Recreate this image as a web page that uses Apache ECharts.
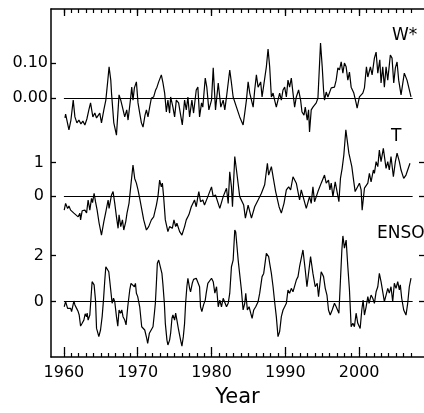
<!DOCTYPE html>
<html>
<head>
<meta charset="utf-8">
<script src="https://cdn.jsdelivr.net/npm/echarts@6/dist/echarts.min.js"></script>
<style>
  html, body { margin: 0; padding: 0; background: #fff; }
  #chart { width: 424px; height: 413px; }
</style>
</head>
<body>
<div id="chart"></div>
<script>
// W* index
const wYears = [1960.14,1960.23,1960.68,1960.95,1961.26,1961.49,1961.76,1962.03,1962.30,1962.57,1962.84,1963.11,1963.38,1963.61,1963.92,1964.19,1964.42,1964.86,1965.09,1965.41,1965.68,1965.95,1966.12,1966.35,1966.45,1966.76,1967.12,1967.47,1967.70,1967.93,1968.24,1968.51,1968.69,1969.01,1969.19,1969.36,1969.55,1969.82,1970.04,1970.27,1970.50,1970.72,1970.99,1971.18,1971.39,1971.62,1971.85,1972.16,1972.43,1972.61,1972.84,1973.20,1973.42,1973.65,1973.88,1974.09,1974.32,1974.46,1974.77,1975.00,1975.23,1975.54,1975.77,1976.04,1976.35,1976.58,1976.80,1977.03,1977.34,1977.57,1977.93,1978.15,1978.38,1978.65,1978.82,1979.15,1979.36,1979.64,1980.00,
  1980.23,1980.54,1980.91,1981.26,1981.58,1981.80,1982.03,1982.47,1982.70,1982.93,1983.38,1983.82,1984.28,1984.50,1984.73,1984.96,1985.18,1985.64,1985.85,1986.08,1986.31,1986.66,1986.85,1987.12,1987.43,1987.66,1987.88,1988.11,1988.34,1988.55,1988.78,1989.23,1989.46,1989.69,1989.91,1990.14,1990.36,1990.58,1990.81,1991.04,1991.26,1991.49,1991.80,1992.07,1992.26,1992.53,1992.70,1992.97,1993.15,1993.28,1993.51,1993.74,1994.19,1994.42,1994.77,1995.00,1995.18,1995.31,1995.54,1995.77,1996.22,1996.66,1996.89,1997.12,1997.34,1997.57,1997.80,1998.01,1998.24,1998.47,1998.69,1998.92,1999.28,1999.59,1999.73,2000.04,2000.50,2000.72,2000.99,2001.18,2001.53,2001.76,2002.07,2002.30,2002.53,2002.80,2002.97,2003.20,2003.42,2003.65,2003.88,2004.23,2004.46,2004.69,2004.91,2005.14,2005.36,2005.68,2006.12,2006.49,2006.66,2007.03];
const wValues = [-0.057,-0.046,-0.091,-0.063,-0.006,-0.054,-0.071,-0.063,-0.074,-0.066,-0.077,-0.060,-0.034,-0.014,-0.054,-0.043,-0.057,-0.043,-0.071,-0.034,-0.006,0.051,0.089,0.051,0.014,-0.071,-0.106,0.009,-0.006,-0.026,-0.054,-0.034,-0.063,-0.006,0.031,-0.006,0.029,0.046,-0.014,-0.043,-0.071,-0.083,-0.049,-0.034,-0.054,-0.026,0.000,0.003,0.023,0.031,0.046,0.066,0.043,0.014,-0.040,-0.006,-0.043,0.003,-0.026,-0.054,-0.006,-0.014,-0.043,-0.077,-0.006,-0.034,0.003,-0.054,-0.006,-0.043,0.023,0.031,-0.054,-0.014,-0.026,0.057,0.031,-0.034,-0.006,
  0.086,-0.034,0.043,-0.026,-0.006,-0.034,0.003,0.080,0.043,0.003,-0.026,-0.054,-0.077,-0.043,-0.006,0.046,0.014,-0.026,0.023,0.066,0.031,0.046,0.003,0.043,0.089,0.140,0.089,0.003,0.014,-0.006,-0.026,0.014,-0.006,0.023,0.031,0.003,0.051,0.031,0.057,0.014,-0.026,0.003,0.023,-0.006,-0.040,-0.049,-0.026,-0.063,-0.034,-0.097,-0.034,-0.026,-0.014,0.000,0.157,0.089,0.023,-0.006,0.017,0.003,0.029,0.031,0.051,0.086,0.080,0.103,0.071,0.100,0.089,0.051,0.074,0.031,0.014,-0.014,-0.029,0.003,0.014,0.029,0.089,0.060,0.089,0.066,0.114,0.131,0.071,0.109,0.043,0.089,0.031,0.089,0.051,0.123,0.114,0.043,0.086,0.103,0.051,0.009,0.071,0.051,0.046,0.003];

// T (middle panel)
const tYears = [1960.04,1960.23,1960.50,1960.68,1960.91,1961.12,1961.35,1961.62,1961.93,1962.16,1962.26,1962.47,1962.84,1963.07,1963.28,1963.51,1963.74,1963.88,1964.09,1964.28,1964.50,1964.77,1965.09,1965.41,1965.68,1965.99,1966.12,1966.45,1966.66,1966.89,1967.12,1967.34,1967.47,1967.70,1967.93,1968.11,1968.38,1968.55,1968.82,1969.05,1969.36,1969.59,1969.82,1970.04,1970.27,1970.50,1970.81,1971.18,1971.49,1971.85,1972.16,1972.53,1972.74,1972.97,1973.20,1973.34,1973.51,1973.74,1974.09,1974.32,1974.69,1974.91,1975.14,1975.31,1975.68,1975.99,1976.35,1976.58,1976.93,1977.26,1977.47,1977.70,1977.93,1978.15,1978.28,1978.51,1978.82,1979.05,1979.50,1980.00,
  1980.23,1980.54,1981.12,1981.58,1982.03,1982.26,1982.47,1982.70,1982.84,1983.15,1983.38,1983.82,1984.36,1984.59,1984.96,1985.41,1985.85,1986.31,1986.76,1987.20,1987.57,1987.74,1988.11,1988.42,1988.69,1989.15,1989.46,1989.82,1990.14,1990.45,1990.72,1991.04,1991.49,1991.93,1992.16,1992.84,1993.28,1993.51,1993.74,1993.96,1994.42,1994.64,1994.86,1995.31,1995.54,1995.85,1996.04,1996.22,1996.45,1996.76,1997.26,1997.47,1997.70,1997.93,1998.20,1998.47,1998.61,1998.82,1999.01,1999.28,1999.46,1999.73,2000.04,2000.27,2000.41,2000.72,2000.95,2001.18,2001.39,2001.62,2001.93,2002.07,2002.30,2002.53,2002.74,2002.97,2003.28,2003.65,2003.88,2004.09,2004.32,2004.64,2004.91,2005.14,2005.45,2005.68,2006.04,2006.35,2006.58,2006.89];
const tValues = [-0.41,-0.21,-0.36,-0.29,-0.41,-0.36,-0.50,-0.46,-0.61,-0.50,-0.70,-0.43,-0.41,-0.49,-0.11,-0.41,-0.06,-0.19,0.09,-0.16,-0.41,-0.80,-1.15,-0.75,-0.46,-0.11,-0.36,0.04,0.14,-0.21,-0.61,-0.95,-0.55,-0.90,-0.70,-1.00,-0.75,-0.50,-0.21,0.28,0.93,0.53,0.39,0.19,-0.06,-0.11,-0.70,-1.00,-0.90,-0.70,-0.61,-0.26,-0.01,0.48,0.28,0.39,-0.01,-0.70,-1.05,-0.90,-0.95,-0.70,-0.90,-0.80,-1.05,-1.15,-0.90,-0.70,-0.55,-0.31,-0.36,-0.11,-0.31,-0.01,0.14,-0.16,-0.11,-0.26,-0.01,0.28,
  -0.01,0.04,-0.36,-0.01,0.24,-0.21,0.73,0.28,-0.31,1.18,0.78,-0.01,-0.26,-0.65,-0.26,-0.65,-0.31,-0.11,0.09,0.34,0.98,0.63,0.88,0.48,0.14,-0.31,-0.50,-0.21,0.19,0.28,0.19,0.58,0.39,-0.11,0.19,-0.36,-0.01,-0.21,0.28,-0.16,0.14,0.09,0.39,0.63,0.39,0.48,0.19,0.39,-0.01,0.43,-0.16,0.53,0.83,1.23,1.97,1.52,1.28,1.32,0.88,0.43,0.14,0.19,0.39,0.19,-0.41,0.24,0.28,0.39,0.68,0.43,0.78,0.68,1.03,0.88,1.37,1.03,1.42,0.83,1.03,0.78,1.18,0.58,1.03,1.28,1.03,0.78,0.53,0.63,0.58,0.98];

// ENSO (bottom panel)
const eYears = [1960.04,1960.23,1960.50,1960.68,1960.91,1961.04,1961.18,1961.35,1961.49,1961.72,1961.93,1962.07,1962.26,1962.47,1962.70,1962.88,1963.07,1963.15,1963.28,1963.42,1963.51,1963.65,1963.82,1963.96,1964.09,1964.28,1964.42,1964.55,1964.73,1964.96,1965.18,1965.36,1965.54,1965.68,1965.85,1966.08,1966.22,1966.39,1966.53,1966.72,1966.89,1967.12,1967.30,1967.47,1967.66,1967.84,1968.01,1968.24,1968.42,1968.65,1968.92,1969.09,1969.23,1969.36,1969.55,1969.69,1969.82,1970.00,1970.27,1970.54,1970.72,1970.95,1971.22,1971.35,1971.58,1971.85,1972.07,1972.26,1972.39,1972.53,1972.66,1972.84,1973.11,1973.28,1973.42,1973.61,1973.74,1973.96,1974.09,1974.32,1974.46,1974.64,1974.77,1975.00,1975.14,1975.31,1975.54,1975.81,1975.99,1976.18,1976.35,1976.49,1976.66,1976.80,1977.03,1977.16,1977.39,1977.57,1977.93,1978.15,1978.38,1978.51,1978.69,1978.92,1979.15,1979.28,1979.50,1979.73,
  1980.00,1980.23,1980.45,1980.68,1980.91,1981.12,1981.35,1981.58,1982.03,1982.26,1982.47,1982.70,1982.93,1983.15,1983.28,1983.61,1984.05,1984.28,1984.50,1984.64,1984.86,1985.09,1985.31,1985.50,1985.72,1985.99,1986.31,1986.53,1986.85,1987.07,1987.43,1987.74,1987.88,1988.11,1988.34,1988.55,1988.78,1989.01,1989.23,1989.46,1989.69,1989.91,1990.14,1990.36,1990.58,1990.81,1991.04,1991.49,1991.72,1991.93,1992.39,1992.70,1992.93,1993.07,1993.42,1993.74,1994.05,1994.32,1994.50,1994.86,1995.18,1995.41,1995.64,1995.85,1996.08,1996.35,1996.66,1996.89,1997.26,1997.47,1997.66,1997.80,1998.01,1998.24,1998.47,1998.69,1998.92,1999.15,1999.36,1999.59,1999.82,2000.14,2000.36,2000.54,2000.72,2000.95,2001.18,2001.35,2001.62,2001.85,2002.07,2002.30,2002.53,2002.74,2002.97,2003.20,2003.42,2003.65,2003.88,2004.09,2004.32,2004.55,2004.77,2005.00,2005.23,2005.45,2005.58,2005.77,2006.04,2006.35,2006.58,2006.80,2007.03];
const eValues = [-0.22,0.00,-0.29,-0.36,-0.29,-0.43,-0.22,0.03,-0.14,-0.29,-0.43,-0.58,-1.06,-0.94,-0.80,-0.53,-0.65,-0.50,-0.80,-0.72,-0.58,0.07,0.87,0.94,0.73,0.07,-1.16,-1.30,-1.52,-1.23,-0.65,0.07,0.94,1.52,1.45,1.30,1.23,0.37,-0.07,0.15,0.00,-0.65,-1.06,-0.36,-0.50,-0.36,-0.65,-0.80,-1.01,-0.22,0.51,0.80,0.73,0.87,0.65,0.80,0.37,0.22,-0.22,-1.09,-1.16,-1.23,-1.59,-1.81,-1.37,-1.45,-1.09,-0.50,-0.07,0.80,1.67,1.81,1.74,1.23,0.73,-0.07,-0.94,-1.67,-1.88,-1.67,-1.37,-0.72,-0.58,-0.80,-0.50,-0.80,-1.23,-1.67,-1.93,-1.52,-0.94,-0.07,0.65,1.02,0.58,0.43,0.80,0.97,1.02,0.94,0.65,-0.22,-0.43,-0.14,0.07,0.37,0.80,0.87,
  1.02,0.87,0.37,0.65,-0.22,0.07,-0.22,0.15,-0.22,-0.07,0.37,1.52,1.81,3.12,3.03,1.81,0.51,-0.36,-0.07,0.37,-0.36,-0.22,-0.50,-0.72,-0.36,-0.22,0.00,0.37,1.09,1.23,2.10,1.96,1.67,1.23,0.65,0.00,-0.65,-1.52,-1.30,-0.65,-0.36,-0.22,-0.07,0.51,0.37,0.58,0.43,0.94,1.09,1.52,2.25,1.38,0.65,0.58,1.96,1.23,0.65,0.80,0.22,1.30,1.09,0.58,0.29,-0.36,-0.58,-0.36,-0.07,-0.22,-0.50,-0.50,2.25,2.86,2.33,2.68,1.52,0.51,-1.09,-0.94,-1.09,-0.50,-0.94,-1.16,-0.36,0.07,-0.58,-0.22,0.22,-0.07,0.29,0.15,-0.07,0.43,0.65,1.23,0.87,0.94,0.00,0.29,0.58,0.37,0.65,0.00,0.80,0.58,0.87,0.51,0.73,0.15,-0.36,-0.58,-0.07,0.65,1.02];

// axis ticks and labels
const decadeTicks = [1960, 1970, 1980, 1990, 2000];
const yearTicks = [];
for (let y = 1960; y <= 2007; y++) yearTicks.push(y);
const wTicks = [0, 0.1];
const tTicks = [0, 1];
const eTicks = [0, 2];
const zeroFrom = 1960, zeroTo = 2007.25;

const X_MIN = 1958.25, X_MAX = 2008.79;
const FONT = 'DejaVu Sans';

const zip = (xs, ys) => xs.map((x, i) => [x, ys[i]]);

const chart = echarts.init(document.getElementById('chart'));

const hiddenX = (g) => ({ gridIndex: g, type: 'value', min: X_MIN, max: X_MAX, show: false });

const panelY = (g, lo, hi, ticks, pos, labels, digits, margin) => ({
  gridIndex: g, type: 'value', position: pos, min: lo, max: hi,
  axisLine: { show: false },
  splitLine: { show: false },
  axisTick: { show: true, inside: true, length: 5, customValues: ticks, lineStyle: { color: '#000', width: 1.3 } },
  axisLabel: {
    show: labels, customValues: ticks, margin: margin, color: '#000', fontFamily: FONT, fontSize: 16,
    formatter: (v) => Number(v).toFixed(digits)
  }
});

const zeroLine = {
  silent: true, symbol: 'none', label: { show: false },
  lineStyle: { color: '#000', width: 1.2, type: 'solid' },
  data: [[{ coord: [zeroFrom, 0] }, { coord: [zeroTo, 0] }]]
};

const lineSeries = (xi, yi, data) => ({
  type: 'line', xAxisIndex: xi, yAxisIndex: yi, data: data,
  showSymbol: false, symbol: 'none',
  lineStyle: { color: '#000', width: 1.2 },
  markLine: zeroLine
});

chart.setOption({
  animation: false,
  backgroundColor: '#fff',
  grid: [
    { left: 51, top: 9, width: 374, height: 348 },
    { left: 51, top: 9, width: 374, height: 348 },
    { left: 51, top: 10.5, width: 374, height: 129.5 },
    { left: 51, top: 128.9, width: 374, height: 111.2 },
    { left: 51, top: 223.5, width: 374, height: 133.4 }
  ],
  xAxis: [
    {
      gridIndex: 0, type: 'value', position: 'bottom', min: X_MIN, max: X_MAX,
      axisLine: { show: true, lineStyle: { color: '#000', width: 1.5 } },
      axisTick: { show: true, inside: true, length: 4, customValues: yearTicks, lineStyle: { color: '#000', width: 1.2 } },
      axisLabel: { show: false }, splitLine: { show: false }
    },
    {
      gridIndex: 0, type: 'value', position: 'top', min: X_MIN, max: X_MAX,
      axisLine: { show: true, lineStyle: { color: '#000', width: 1.5 } },
      axisTick: { show: true, inside: true, length: 4, customValues: yearTicks, lineStyle: { color: '#000', width: 1.2 } },
      axisLabel: { show: false }, splitLine: { show: false }
    },
    {
      gridIndex: 1, type: 'value', position: 'bottom', min: X_MIN, max: X_MAX,
      axisLine: { show: false },
      axisTick: { show: true, inside: true, length: 7, customValues: decadeTicks, lineStyle: { color: '#000', width: 1.3 } },
      axisLabel: {
        show: true, customValues: decadeTicks, margin: 11, color: '#000', fontFamily: FONT, fontSize: 16,
        formatter: (v) => String(v)
      },
      splitLine: { show: false },
      name: 'Year', nameLocation: 'middle', nameGap: 33,
      nameTextStyle: { color: '#000', fontFamily: FONT, fontSize: 21 }
    },
    {
      gridIndex: 1, type: 'value', position: 'top', min: X_MIN, max: X_MAX,
      axisLine: { show: false },
      axisTick: { show: true, inside: true, length: 7, customValues: decadeTicks, lineStyle: { color: '#000', width: 1.3 } },
      axisLabel: { show: false }, splitLine: { show: false }
    },
    hiddenX(2), hiddenX(3), hiddenX(4)
  ],
  yAxis: [
    {
      gridIndex: 0, type: 'value', position: 'left', min: 0, max: 1,
      axisLine: { show: true, lineStyle: { color: '#000', width: 1.5 } },
      axisTick: { show: false }, axisLabel: { show: false }, splitLine: { show: false }
    },
    { gridIndex: 1, type: 'value', min: 0, max: 1, show: false },
    panelY(2, -0.12, 0.25, wTicks, 'left', true, 2, 3),
    panelY(3, -1.3, 2.0, tTicks, 'left', true, 0, 7),
    panelY(3, -1.3, 2.0, tTicks, 'right', false, 0, 7),
    panelY(4, -2.4, 3.4, eTicks, 'left', true, 0, 7),
    panelY(4, -2.4, 3.4, eTicks, 'right', false, 0, 7)
  ],
  graphic: [
    { type: 'text', x: 392, y: 36, style: { text: 'W*', fill: '#000', font: '17px "DejaVu Sans"', verticalAlign: 'middle' } },
    { type: 'text', x: 391, y: 137, style: { text: 'T', fill: '#000', font: '17px "DejaVu Sans"', verticalAlign: 'middle' } },
    { type: 'text', x: 377, y: 234, style: { text: 'ENSO', fill: '#000', font: '17px "DejaVu Sans"', verticalAlign: 'middle' } }
  ],
  series: [
    lineSeries(4, 2, zip(wYears, wValues)),
    lineSeries(5, 3, zip(tYears, tValues)),
    lineSeries(6, 5, zip(eYears, eValues))
  ]
});
</script>
</body>
</html>
